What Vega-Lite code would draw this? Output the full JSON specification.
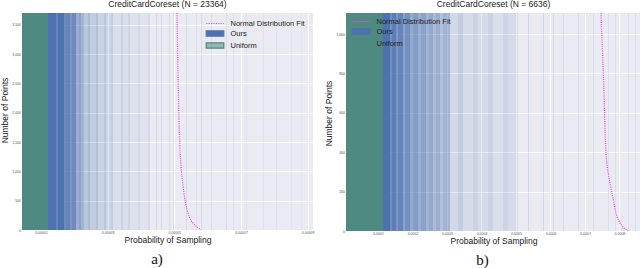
{
  "$schema": "https://vega.github.io/schema/vega-lite/v6.json",
  "padding": 0,
  "datasets": {
    "binsA": [
      {"series": "Uniform", "x0": 4.3e-6, "x1": 12.1e-6, "w": 1},
      {"series": "Ours", "x0": 12.1e-6, "x1": 14.5e-6, "w": 1},
      {"series": "Ours", "x0": 14.5e-6, "x1": 15.1e-6, "w": 0.85},
      {"series": "Ours", "x0": 15.1e-6, "x1": 16.9e-6, "w": 1},
      {"series": "Ours", "x0": 16.9e-6, "x1": 17.5e-6, "w": 0.8},
      {"series": "Ours", "x0": 17.5e-6, "x1": 18.7e-6, "w": 0.85},
      {"series": "Ours", "x0": 18.7e-6, "x1": 19.3e-6, "w": 0.7},
      {"series": "Ours", "x0": 19.3e-6, "x1": 20.5e-6, "w": 0.8},
      {"series": "Ours", "x0": 20.5e-6, "x1": 21.4e-6, "w": 0.5},
      {"series": "Ours", "x0": 21.4e-6, "x1": 22.0e-6, "w": 0.6},
      {"series": "Ours", "x0": 22.0e-6, "x1": 22.9e-6, "w": 0.45},
      {"series": "Ours", "x0": 22.9e-6, "x1": 24.1e-6, "w": 0.3},
      {"series": "Ours", "x0": 24.1e-6, "x1": 24.7e-6, "w": 0.4},
      {"series": "Ours", "x0": 24.7e-6, "x1": 26.5e-6, "w": 0.25},
      {"series": "Ours", "x0": 26.5e-6, "x1": 27.1e-6, "w": 0.35},
      {"series": "Ours", "x0": 27.1e-6, "x1": 28.9e-6, "w": 0.2},
      {"series": "Ours", "x0": 28.9e-6, "x1": 29.5e-6, "w": 0.3},
      {"series": "Ours", "x0": 29.5e-6, "x1": 31.0e-6, "w": 0.18},
      {"series": "Ours", "x0": 31.0e-6, "x1": 31.6e-6, "w": 0.25},
      {"series": "Ours", "x0": 31.6e-6, "x1": 34.0e-6, "w": 0.1},
      {"series": "Ours", "x0": 34.0e-6, "x1": 34.6e-6, "w": 0.2},
      {"series": "Ours", "x0": 34.6e-6, "x1": 36.1e-6, "w": 0.1},
      {"series": "Ours", "x0": 36.1e-6, "x1": 36.7e-6, "w": 0.18},
      {"series": "Ours", "x0": 36.7e-6, "x1": 39.1e-6, "w": 0.08},
      {"series": "Ours", "x0": 39.1e-6, "x1": 39.7e-6, "w": 0.15},
      {"series": "Ours", "x0": 39.7e-6, "x1": 42.1e-6, "w": 0.06},
      {"series": "Ours", "x0": 42.1e-6, "x1": 42.7e-6, "w": 0.14},
      {"series": "Ours", "x0": 44.5e-6, "x1": 44.8e-6, "w": 0.15},
      {"series": "Ours", "x0": 46.0e-6, "x1": 46.3e-6, "w": 0.12},
      {"series": "Ours", "x0": 48.4e-6, "x1": 48.7e-6, "w": 0.15},
      {"series": "Ours", "x0": 49.6e-6, "x1": 49.9e-6, "w": 0.1},
      {"series": "Ours", "x0": 53.5e-6, "x1": 53.8e-6, "w": 0.12},
      {"series": "Ours", "x0": 56.5e-6, "x1": 56.8e-6, "w": 0.1},
      {"series": "Ours", "x0": 58.0e-6, "x1": 58.3e-6, "w": 0.12},
      {"series": "Ours", "x0": 61.0e-6, "x1": 61.3e-6, "w": 0.1},
      {"series": "Ours", "x0": 65.5e-6, "x1": 65.8e-6, "w": 0.1},
      {"series": "Ours", "x0": 67.6e-6, "x1": 67.9e-6, "w": 0.08},
      {"series": "Ours", "x0": 71.5e-6, "x1": 71.8e-6, "w": 0.08},
      {"series": "Ours", "x0": 76.6e-6, "x1": 76.9e-6, "w": 0.06},
      {"series": "Ours", "x0": 80.5e-6, "x1": 80.8e-6, "w": 0.06},
      {"series": "Ours", "x0": 85.0e-6, "x1": 85.3e-6, "w": 0.05},
      {"series": "Ours", "x0": 88.0e-6, "x1": 88.3e-6, "w": 0.05}
    ],
    "lineA": [
      {"series": "Normal Distribution Fit", "p": 50.8e-6, "n": 3702},
      {"series": "Normal Distribution Fit", "p": 51.1e-6, "n": 2678},
      {"series": "Normal Distribution Fit", "p": 51.49e-6, "n": 1689},
      {"series": "Normal Distribution Fit", "p": 52.0e-6, "n": 1092},
      {"series": "Normal Distribution Fit", "p": 52.51e-6, "n": 802},
      {"series": "Normal Distribution Fit", "p": 53.2e-6, "n": 512},
      {"series": "Normal Distribution Fit", "p": 54.4e-6, "n": 239},
      {"series": "Normal Distribution Fit", "p": 55.6e-6, "n": 119},
      {"series": "Normal Distribution Fit", "p": 56.5e-6, "n": 68},
      {"series": "Normal Distribution Fit", "p": 58.0e-6, "n": 0}
    ],
    "binsB": [
      {"series": "Uniform", "x0": 7.2e-6, "x1": 114.5e-6, "w": 1},
      {"series": "Ours", "x0": 114.5e-6, "x1": 134.8e-6, "w": 1},
      {"series": "Ours", "x0": 134.8e-6, "x1": 140.6e-6, "w": 0.75},
      {"series": "Ours", "x0": 140.6e-6, "x1": 152.2e-6, "w": 0.9},
      {"series": "Ours", "x0": 152.2e-6, "x1": 158.0e-6, "w": 0.7},
      {"series": "Ours", "x0": 158.0e-6, "x1": 172.4e-6, "w": 0.85},
      {"series": "Ours", "x0": 172.4e-6, "x1": 178.2e-6, "w": 0.6},
      {"series": "Ours", "x0": 178.2e-6, "x1": 192.7e-6, "w": 0.75},
      {"series": "Ours", "x0": 192.7e-6, "x1": 201.4e-6, "w": 0.55},
      {"series": "Ours", "x0": 201.4e-6, "x1": 215.9e-6, "w": 0.65},
      {"series": "Ours", "x0": 215.9e-6, "x1": 224.6e-6, "w": 0.5},
      {"series": "Ours", "x0": 224.6e-6, "x1": 239.1e-6, "w": 0.6},
      {"series": "Ours", "x0": 239.1e-6, "x1": 247.8e-6, "w": 0.45},
      {"series": "Ours", "x0": 247.8e-6, "x1": 259.4e-6, "w": 0.55},
      {"series": "Ours", "x0": 259.4e-6, "x1": 268.1e-6, "w": 0.4},
      {"series": "Ours", "x0": 268.1e-6, "x1": 279.7e-6, "w": 0.5},
      {"series": "Ours", "x0": 279.7e-6, "x1": 288.4e-6, "w": 0.35},
      {"series": "Ours", "x0": 288.4e-6, "x1": 308.7e-6, "w": 0.45},
      {"series": "Ours", "x0": 308.7e-6, "x1": 331.9e-6, "w": 0.15},
      {"series": "Ours", "x0": 331.9e-6, "x1": 346.4e-6, "w": 0.25},
      {"series": "Ours", "x0": 346.4e-6, "x1": 375.4e-6, "w": 0.12},
      {"series": "Ours", "x0": 375.4e-6, "x1": 389.9e-6, "w": 0.2},
      {"series": "Ours", "x0": 389.9e-6, "x1": 418.9e-6, "w": 0.12},
      {"series": "Ours", "x0": 418.9e-6, "x1": 433.4e-6, "w": 0.2},
      {"series": "Ours", "x0": 433.4e-6, "x1": 462.3e-6, "w": 0.1},
      {"series": "Ours", "x0": 462.3e-6, "x1": 476.8e-6, "w": 0.18},
      {"series": "Ours", "x0": 476.8e-6, "x1": 505.8e-6, "w": 0.12},
      {"series": "Ours", "x0": 534.8e-6, "x1": 537.7e-6, "w": 0.15},
      {"series": "Ours", "x0": 578.3e-6, "x1": 581.2e-6, "w": 0.15},
      {"series": "Ours", "x0": 607.3e-6, "x1": 610.2e-6, "w": 0.12},
      {"series": "Ours", "x0": 636.3e-6, "x1": 639.2e-6, "w": 0.12},
      {"series": "Ours", "x0": 679.8e-6, "x1": 682.7e-6, "w": 0.12},
      {"series": "Ours", "x0": 723.3e-6, "x1": 726.2e-6, "w": 0.1},
      {"series": "Ours", "x0": 766.7e-6, "x1": 769.6e-6, "w": 0.1},
      {"series": "Ours", "x0": 787.0e-6, "x1": 789.9e-6, "w": 0.1},
      {"series": "Ours", "x0": 824.7e-6, "x1": 827.6e-6, "w": 0.1},
      {"series": "Ours", "x0": 845.0e-6, "x1": 847.9e-6, "w": 0.1}
    ],
    "lineB": [
      {"series": "Normal Distribution Fit", "p": 746.4e-6, "n": 1106},
      {"series": "Normal Distribution Fit", "p": 750.8e-6, "n": 903},
      {"series": "Normal Distribution Fit", "p": 755.1e-6, "n": 700},
      {"series": "Normal Distribution Fit", "p": 758.5e-6, "n": 497},
      {"series": "Normal Distribution Fit", "p": 760.9e-6, "n": 396},
      {"series": "Normal Distribution Fit", "p": 765.3e-6, "n": 320},
      {"series": "Normal Distribution Fit", "p": 772.5e-6, "n": 244},
      {"series": "Normal Distribution Fit", "p": 781.2e-6, "n": 167},
      {"series": "Normal Distribution Fit", "p": 789.9e-6, "n": 91},
      {"series": "Normal Distribution Fit", "p": 801.5e-6, "n": 41},
      {"series": "Normal Distribution Fit", "p": 813.1e-6, "n": 15},
      {"series": "Normal Distribution Fit", "p": 824.7e-6, "n": 2}
    ]
  },
  "hconcat": [
    {
      "title": {"text": "a)", "orient": "bottom", "font": "Liberation Serif", "fontSize": 15, "fontWeight": "normal", "color": "#111", "offset": 8},
      "resolve": {"scale": {"color": "independent"}, "legend": {"color": "independent"}},
      "vconcat": [
        {
          "title": {"text": "CreditCardCoreset (N = 23364)"},
          "width": 291,
          "height": 217,
          "layer": [
            {
              "data": {"name": "binsA"},
              "mark": {"type": "rect"},
              "encoding": {
                "x": {"field": "x0", "type": "quantitative", "scale": {"domain": [4.3e-6, 91.6e-6], "nice": false, "zero": false},
                  "axis": {"title": "Probability of Sampling", "values": [1e-5, 2e-5, 3e-5, 4e-5, 5e-5, 6e-5, 7e-5, 8e-5, 9e-5], "format": ".5f"}},
                "x2": {"field": "x1"},
                "color": {"field": "series", "type": "nominal",
                  "scale": {"domain": ["Normal Distribution Fit", "Ours", "Uniform"], "range": ["#EE44EE", "#4C72B0", "#4E8A80"]},
                  "legend": {"orient": "none", "legendX": 186.5, "legendY": 4,
                    "encode": {
                      "symbols": {
                        "update": {
                          "shape": {"signal": "datum.value === 'Normal Distribution Fit' ? 'M-1.6,0H1.6' : 'M-1.6,-0.48H1.6V0.48H-1.6Z'"},
                          "fill": {"signal": "datum.value === 'Normal Distribution Fit' ? 'transparent' : (datum.value === 'Ours' ? '#4C72B0' : '#8DBBA6')"},
                          "fillOpacity": {"signal": "datum.value === 'Uniform' ? 0.55 : 1"},
                          "stroke": {"signal": "datum.value === 'Normal Distribution Fit' ? '#EE44EE' : 'transparent'"},
                          "strokeWidth": {"value": 1.2},
                          "strokeDash": {"signal": "datum.value === 'Normal Distribution Fit' ? [1.2, 1.2] : [1, 0]"},
                          "opacity": {"value": 1}
                        }
                      }
                    }}},
                "opacity": {"field": "w", "type": "quantitative", "scale": {"domain": [0, 1], "range": [0, 1]}, "legend": null}
              }
            },
            {
              "data": {"name": "lineA"},
              "mark": {"type": "line", "strokeDash": [1, 1.2], "strokeWidth": 1.2, "interpolate": "monotone"},
              "encoding": {
                "x": {"field": "p", "type": "quantitative"},
                "y": {"field": "n", "type": "quantitative", "scale": {"domain": [0, 3702], "nice": false},
                  "axis": {"title": "Number of Points", "titleY": 97, "values": [0, 500, 1000, 1500, 2000, 2500, 3000, 3500]}},
                "color": {"field": "series", "type": "nominal"}
              }
            }
          ]
        }
      ]
    },
    {
      "title": {"text": "b)", "orient": "bottom", "font": "Liberation Serif", "fontSize": 15, "fontWeight": "normal", "color": "#111", "offset": 8},
      "resolve": {"scale": {"color": "independent"}, "legend": {"color": "independent"}},
      "vconcat": [
        {
          "title": {"text": "CreditCardCoreset (N = 6636)"},
          "width": 295,
          "height": 218,
          "layer": [
            {
              "data": {"name": "binsB"},
              "mark": {"type": "rect"},
              "encoding": {
                "x": {"field": "x0", "type": "quantitative", "scale": {"domain": [7.2e-6, 862.4e-6], "nice": false, "zero": false},
                  "axis": {"title": "Probability of Sampling", "values": [1e-4, 2e-4, 3e-4, 4e-4, 5e-4, 6e-4, 7e-4, 8e-4], "format": ".4f"}},
                "x2": {"field": "x1"},
                "color": {"field": "series", "type": "nominal",
                  "scale": {"domain": ["Normal Distribution Fit", "Ours", "Uniform"], "range": ["#EE44EE", "#4C72B0", "#4E8A80"]},
                  "legend": {"orient": "none", "legendX": 8.5, "legendY": 2,
                    "encode": {
                      "symbols": {
                        "update": {
                          "shape": {"signal": "datum.value === 'Normal Distribution Fit' ? 'M-1.6,0H1.6' : 'M-1.6,-0.48H1.6V0.48H-1.6Z'"},
                          "fill": {"signal": "datum.value === 'Normal Distribution Fit' ? 'transparent' : (datum.value === 'Ours' ? '#4C72B0' : '#8DBBA6')"},
                          "fillOpacity": {"signal": "datum.value === 'Uniform' ? 0.55 : 1"},
                          "stroke": {"signal": "datum.value === 'Normal Distribution Fit' ? '#8888EE' : 'transparent'"},
                          "strokeWidth": {"value": 1.2},
                          "strokeDash": {"signal": "datum.value === 'Normal Distribution Fit' ? [1.2, 1.2] : [1, 0]"},
                          "opacity": {"value": 1}
                        }
                      }
                    }}},
                "opacity": {"field": "w", "type": "quantitative", "scale": {"domain": [0, 1], "range": [0, 1]}, "legend": null}
              }
            },
            {
              "data": {"name": "lineB"},
              "mark": {"type": "line", "strokeDash": [1, 1.2], "strokeWidth": 1.2, "interpolate": "monotone"},
              "encoding": {
                "x": {"field": "p", "type": "quantitative"},
                "y": {"field": "n", "type": "quantitative", "scale": {"domain": [0, 1107], "nice": false},
                  "axis": {"title": "Number of Points", "titleY": 100, "values": [0, 200, 400, 600, 800, 1000]}},
                "color": {"field": "series", "type": "nominal"}
              }
            }
          ]
        }
      ]
    }
  ],
  "resolve": {"scale": {"color": "independent", "x": "independent", "y": "independent"}, "legend": {"color": "independent"}},
  "config": {
    "view": {"fill": "#EAEAF2", "stroke": null},
    "concat": {"spacing": 10},
    "axis": {
      "domain": false, "ticks": false, "grid": true, "gridColor": "#FFFFFF", "gridWidth": 1,
      "labelFont": "Liberation Sans", "labelFontSize": 3.5, "labelColor": "#555555", "labelPadding": 1.5,
      "titleFont": "Liberation Sans", "titleFontSize": 8.5, "titleFontWeight": "normal", "titleColor": "#222222", "titlePadding": 1
    },
    "axisY": {"minExtent": 12, "maxExtent": 12},
    "axisX": {"minExtent": 5, "maxExtent": 5, "labelPadding": 0.5, "titlePadding": 0.5},
    "title": {"font": "Liberation Sans", "fontSize": 8.5, "fontWeight": "normal", "color": "#222222", "offset": 2, "anchor": "middle"},
    "legend": {
      "title": null,
      "labelFont": "Liberation Sans", "labelFontSize": 7.5, "labelColor": "#222222",
      "symbolType": "M-1.6,-0.48H1.6V0.48H-1.6Z", "symbolSize": 121, "rowPadding": -1, "labelOffset": 9, "padding": 0
    }
  }
}
